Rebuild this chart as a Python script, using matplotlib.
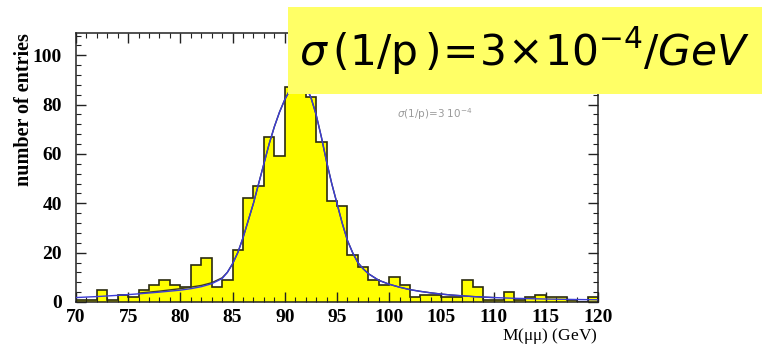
import numpy as np
import matplotlib
matplotlib.use("Agg")
import matplotlib.pyplot as plt
from matplotlib.patches import Rectangle
from matplotlib.ticker import MultipleLocator

# histogram: 1 GeV bins from 70 to 120
bin_edges = np.arange(70, 121, 1)
counts = [1, 1, 5, 1, 3, 2, 5, 7, 9, 7,
          6, 15, 18, 6, 9, 21, 42, 47, 67, 59,
          87, 95, 83, 65, 41, 39, 19, 14, 9, 7,
          10, 7, 2, 3, 3, 2, 2, 9, 6, 1,
          1, 4, 1, 2, 3, 2, 2, 1, 0, 2]

# fit curve (blue)
fit_x = [70, 72, 74, 76, 78, 80, 81, 82, 83, 84, 84.5, 85, 85.5, 86, 86.5, 87,
         87.5, 88, 88.5, 89, 89.5, 90, 90.5, 91, 91.5, 92, 92.5, 93, 93.5, 94,
         94.5, 95, 95.5, 96, 96.5, 97, 97.5, 98, 99, 100, 101, 102, 103, 104,
         105, 106, 108, 110, 112, 115, 118, 120]
fit_y = [1.8, 2.2, 2.7, 3.3, 4.0, 4.8, 5.4, 6.2, 7.4, 9.5, 12, 15.5, 20, 26, 33, 40,
         48, 56, 64, 71, 77, 82, 86, 88.5, 89, 87.5, 83, 76, 67, 57,
         48, 40, 32, 25, 20, 16, 13.5, 11.5, 8.8, 7.2, 6.0, 5.0, 4.3, 3.7,
         3.2, 2.8, 2.2, 1.8, 1.5, 1.2, 1.0, 0.9]

# second (dark) curve, restricted range
dark_x = [76, 78, 80, 82, 83, 84, 84.5, 85, 85.5, 86, 86.5, 87, 87.5, 88, 88.5,
          89, 89.5, 90, 90.5, 91, 91.5, 92, 92.5, 93, 93.5, 94, 94.5, 95, 95.5,
          96, 96.5, 97, 97.5, 98, 99, 100, 101, 102, 103, 104, 105, 106, 108, 110]
dark_y = [3.6, 4.4, 5.4, 6.7, 7.8, 9.8, 12, 15.5, 20, 26, 33, 40, 48, 56, 64,
          71, 77, 82, 86, 88.5, 89, 87.5, 83, 76, 67, 57, 48, 40, 32,
          25, 20, 16, 13.5, 11.5, 8.8, 7.2, 6.0, 5.0, 4.3, 3.7, 3.2, 2.8, 2.2, 1.8]

SERIF = "Liberation Serif"
YELLOW = "#ffff00"
BOX_YELLOW = "#ffff66"

plt.rcParams["mathtext.fontset"] = "dejavusans"

fig = plt.figure(figsize=(7.62, 3.47), dpi=100)
ax = fig.add_axes([0.0997, 0.1297, 0.685, 0.775])

ax.stairs(counts, bin_edges, fill=True, color=YELLOW, zorder=1)
ax.stairs(counts, bin_edges, color="#2b2b10", linewidth=1.2, baseline=0, zorder=2)
ax.plot(dark_x, dark_y, color="#3a3a20", linewidth=1.0, zorder=3)
ax.plot(fit_x, fit_y, color="#3b3bd6", linewidth=1.0, zorder=4)

ax.set_xlim(70, 120)
ax.set_ylim(0, 109)

ax.xaxis.set_major_locator(MultipleLocator(5))
ax.xaxis.set_minor_locator(MultipleLocator(1))
ax.yaxis.set_major_locator(MultipleLocator(20))
ax.yaxis.set_minor_locator(MultipleLocator(4))
ax.tick_params(which="both", direction="in", top=True, right=True, color="#222222")
ax.tick_params(which="major", length=7, width=1)
ax.tick_params(which="minor", length=3.5, width=0.8)
ax.tick_params(axis="x", which="major", pad=5)
ax.tick_params(axis="y", which="major", pad=10)
for lbl in ax.get_xticklabels() + ax.get_yticklabels():
    lbl.set_fontfamily(SERIF)
    lbl.set_fontsize(14)
    lbl.set_fontweight("bold")
for sp in ax.spines.values():
    sp.set_linewidth(1.1)
    sp.set_color("#222222")

ax.set_ylabel("number of entries", family=SERIF, fontsize=14.5, fontweight="bold",
              loc="top", labelpad=-1)
ax.set_xlabel(r"M($\mathregular{\mu\mu}$) (GeV)", family=SERIF, fontsize=12.5,
              loc="right", labelpad=0)

# small grey label of the original plot
ax.text(0.688, 0.70, r"$\sigma$(1/p)=3 10$^{-4}$", transform=ax.transAxes,
        color="#9a9a9a", fontsize=7.5, family="DejaVu Sans", ha="center", va="center")

# yellow overlay box with the resolution
fig.add_artist(Rectangle((0.378, 0.729), 0.63, 0.251, transform=fig.transFigure,
                         facecolor=BOX_YELLOW, edgecolor="none", zorder=10))
fig.text(0.689, 0.852,
         r"$\sigma\,(\mathsf{1/p}\,)\!=\!\mathsf{3}\!\times\!\mathsf{10}^{-4}\mathit{/GeV}$",
         fontsize=30.5, ha="center", va="center", color="black", zorder=11)

fig.savefig("out.png", dpi=100)
